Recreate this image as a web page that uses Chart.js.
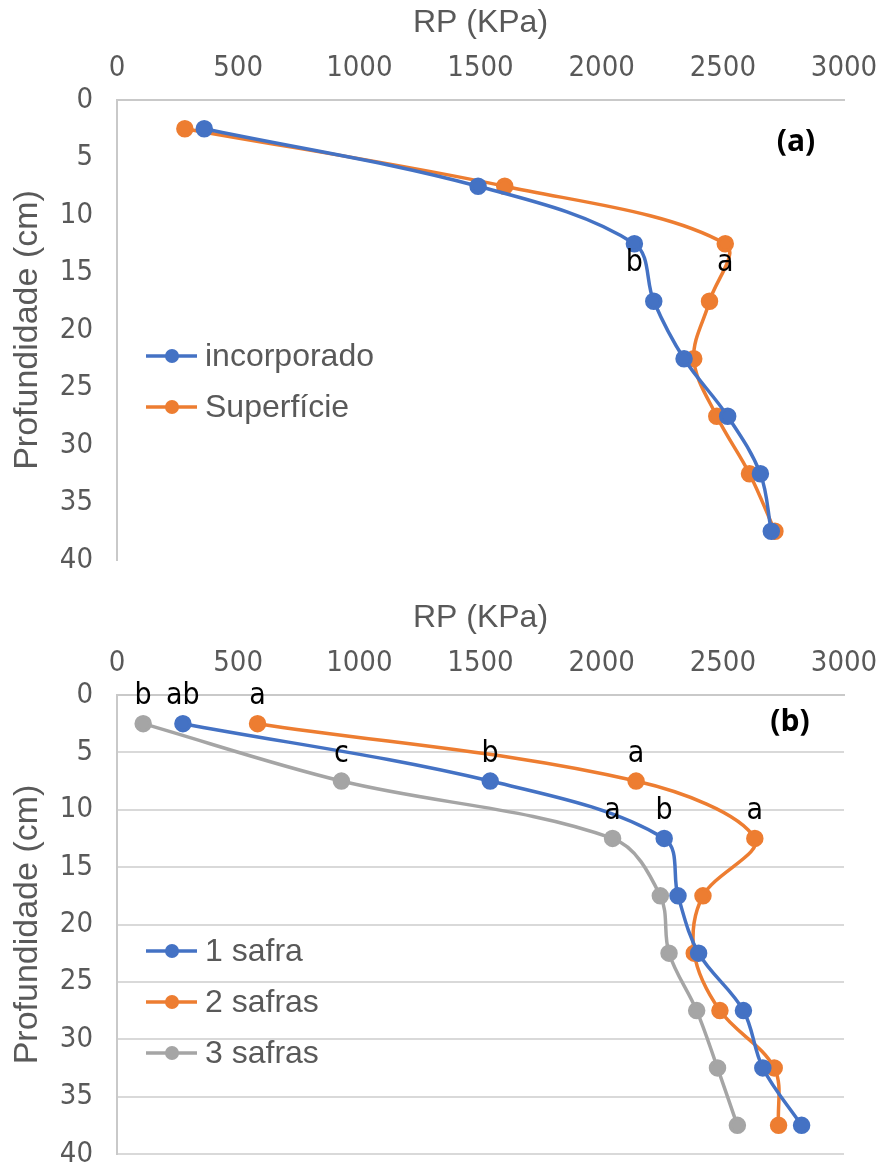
<!DOCTYPE html>
<html lang="pt">
<head>
<meta charset="UTF-8">
<title>RP x Profundidade</title>
<script src="https://cdn.jsdelivr.net/npm/chart.js"></script>
<style>
  body { margin: 0; background: #ffffff; }
  .panel { position: absolute; left: 0; width: 879px; }
  #panelA { top: 0; height: 585px; }
  #panelB { top: 585px; height: 581px; }
</style>
</head>
<body>
<div class="panel" id="panelA"><canvas id="chartA" width="879" height="585"></canvas></div>
<div class="panel" id="panelB"><canvas id="chartB" width="879" height="581"></canvas></div>
<script>
// profundidade (cm) of each reading
const depths = [2.5, 7.5, 12.5, 17.5, 22.5, 27.5, 32.5, 37.5];
const xTickValues = [0, 500, 1000, 1500, 2000, 2500, 3000];
const yTickValues = [0, 5, 10, 15, 20, 25, 30, 35, 40];

// (a) RP (KPa)
const incorporado = [360, 1490, 2135, 2215, 2340, 2520, 2655, 2700];
const superficie = [280, 1600, 2510, 2445, 2380, 2475, 2610, 2715];
const lettersIncorporado = ['', '', 'b', '', '', '', '', ''];
const lettersSuperficie = ['', '', 'a', '', '', '', '', ''];

// (b) RP (KPa)
const safra1 = [272, 1540, 2258, 2315, 2400, 2585, 2665, 2825];
const safra2 = [580, 2142, 2632, 2418, 2382, 2488, 2712, 2730];
const safra3 = [108, 926, 2045, 2242, 2278, 2392, 2478, 2560];
const lettersSafra1 = ['ab', 'b', 'b', '', '', '', '', ''];
const lettersSafra2 = ['a', 'a', 'a', '', '', '', '', ''];
const lettersSafra3 = ['b', 'c', 'a', '', '', '', '', ''];

const BLUE = '#4472C4', ORANGE = '#ED7D31', GRAY = '#A5A5A5';
const FONT = "'Liberation Sans', Arial, sans-serif";
const NARROW = "'Liberation Sans Narrow', 'DejaVu Sans Condensed', Arial, sans-serif";
const TEXT = '#595959';

function series(label, values, letters, color) {
  return {
    label: label,
    data: values.map((v, i) => ({ x: v, y: depths[i] })),
    letters: letters,
    showLine: true,
    borderColor: color,
    backgroundColor: color,
    borderWidth: 3.5,
    pointRadius: 7,
    pointHoverRadius: 7,
    tension: 0.35,
    clip: false
  };
}

// letters, panel tag and the legend drawn inside the plot
const extras = {
  id: 'extras',
  afterDatasetsDraw(chart, args, opts) {
    const { ctx, chartArea } = chart;
    const xs = chart.scales.x, ys = chart.scales.y;
    ctx.save();
    ctx.textAlign = 'center';
    ctx.textBaseline = 'middle';
    ctx.fillStyle = '#000000';
    ctx.font = '30px ' + NARROW;
    chart.data.datasets.forEach(ds => {
      ds.letters.forEach((l, j) => {
        if (!l) return;
        const p = ds.data[j];
        ctx.fillText(l, xs.getPixelForValue(p.x), ys.getPixelForValue(p.y) + opts.letterDy);
      });
    });

    ctx.font = "bold 30px 'Open Sans', 'Liberation Sans', sans-serif";
    ctx.fillText(opts.tag, chartArea.right + opts.tagDx, chartArea.top + opts.tagDy);

    ctx.textAlign = 'left';
    ctx.font = '32px ' + FONT;
    chart.data.datasets.forEach((ds, i) => {
      const y = chartArea.top + 256 + i * 51;
      const x0 = chartArea.left + 29;
      ctx.strokeStyle = ds.borderColor;
      ctx.lineWidth = 3.5;
      ctx.beginPath();
      ctx.moveTo(x0, y);
      ctx.lineTo(x0 + 51, y);
      ctx.stroke();
      ctx.fillStyle = ds.borderColor;
      ctx.beginPath();
      ctx.arc(x0 + 26, y, 7, 0, Math.PI * 2);
      ctx.fill();
      ctx.fillStyle = TEXT;
      ctx.fillText(ds.label, x0 + 59, y + 1);
    });
    ctx.restore();
  }
};

function makeOptions(cfg) {
  return {
    responsive: false,
    animation: false,
    layout: { padding: { left: 0, top: 0, right: 35, bottom: cfg.padBottom } },
    plugins: {
      legend: { display: false },
      tooltip: { enabled: false },
      extras: { letterDy: cfg.letterDy, tag: cfg.tag, tagDx: cfg.tagDx, tagDy: cfg.tagDy }
    },
    scales: {
      x: {
        type: 'linear',
        position: 'top',
        min: 0,
        max: 3000,
        afterBuildTicks: s => { s.ticks = xTickValues.map(v => ({ value: v })); },
        afterFit: s => { s.height = cfg.areaTop; s.paddingLeft = 0; s.paddingRight = 0; },
        grid: { display: false, drawTicks: false },
        border: { display: true, color: '#c9c9c9', width: 2 },
        ticks: { color: TEXT, font: { size: 29, family: NARROW }, padding: 14, maxRotation: 0, callback: v => String(v) },
        title: { display: true, text: 'RP (KPa)', color: TEXT, font: { size: 32, family: FONT }, padding: { top: cfg.titleTop, bottom: 0 } }
      },
      y: {
        type: 'linear',
        reverse: true,
        min: 0,
        max: 40,
        afterBuildTicks: s => { s.ticks = yTickValues.map(v => ({ value: v })); },
        afterFit: s => { s.width = 117; s.paddingTop = 0; s.paddingBottom = 0; },
        grid: { display: cfg.grid, color: '#d9d9d9', lineWidth: 2, drawTicks: false },
        border: { display: true, color: '#c9c9c9', width: 2 },
        ticks: { color: TEXT, font: { size: 29, family: NARROW }, padding: 24, callback: v => String(v) },
        title: { display: true, text: 'Profundidade (cm)', color: TEXT, font: { size: 34, family: FONT }, padding: { top: 7, bottom: 0 } }
      }
    }
  };
}

new Chart(document.getElementById('chartA'), {
  type: 'scatter',
  data: {
    datasets: [
      series('incorporado', incorporado, lettersIncorporado, BLUE),
      series('Superfície', superficie, lettersSuperficie, ORANGE)
    ]
  },
  options: makeOptions({ areaTop: 100, padBottom: 25, grid: false, titleTop: 4, letterDy: 19, tag: '(a)', tagDx: -48, tagDy: 42 }),
  plugins: [extras]
});

new Chart(document.getElementById('chartB'), {
  type: 'scatter',
  data: {
    datasets: [
      series('1 safra', safra1, lettersSafra1, BLUE),
      series('2 safras', safra2, lettersSafra2, ORANGE),
      series('3 safras', safra3, lettersSafra3, GRAY)
    ]
  },
  options: makeOptions({ areaTop: 110, padBottom: 12, grid: true, titleTop: 14, letterDy: -27, tag: '(b)', tagDx: -54, tagDy: 27 }),
  plugins: [extras]
});
</script>
</body>
</html>
